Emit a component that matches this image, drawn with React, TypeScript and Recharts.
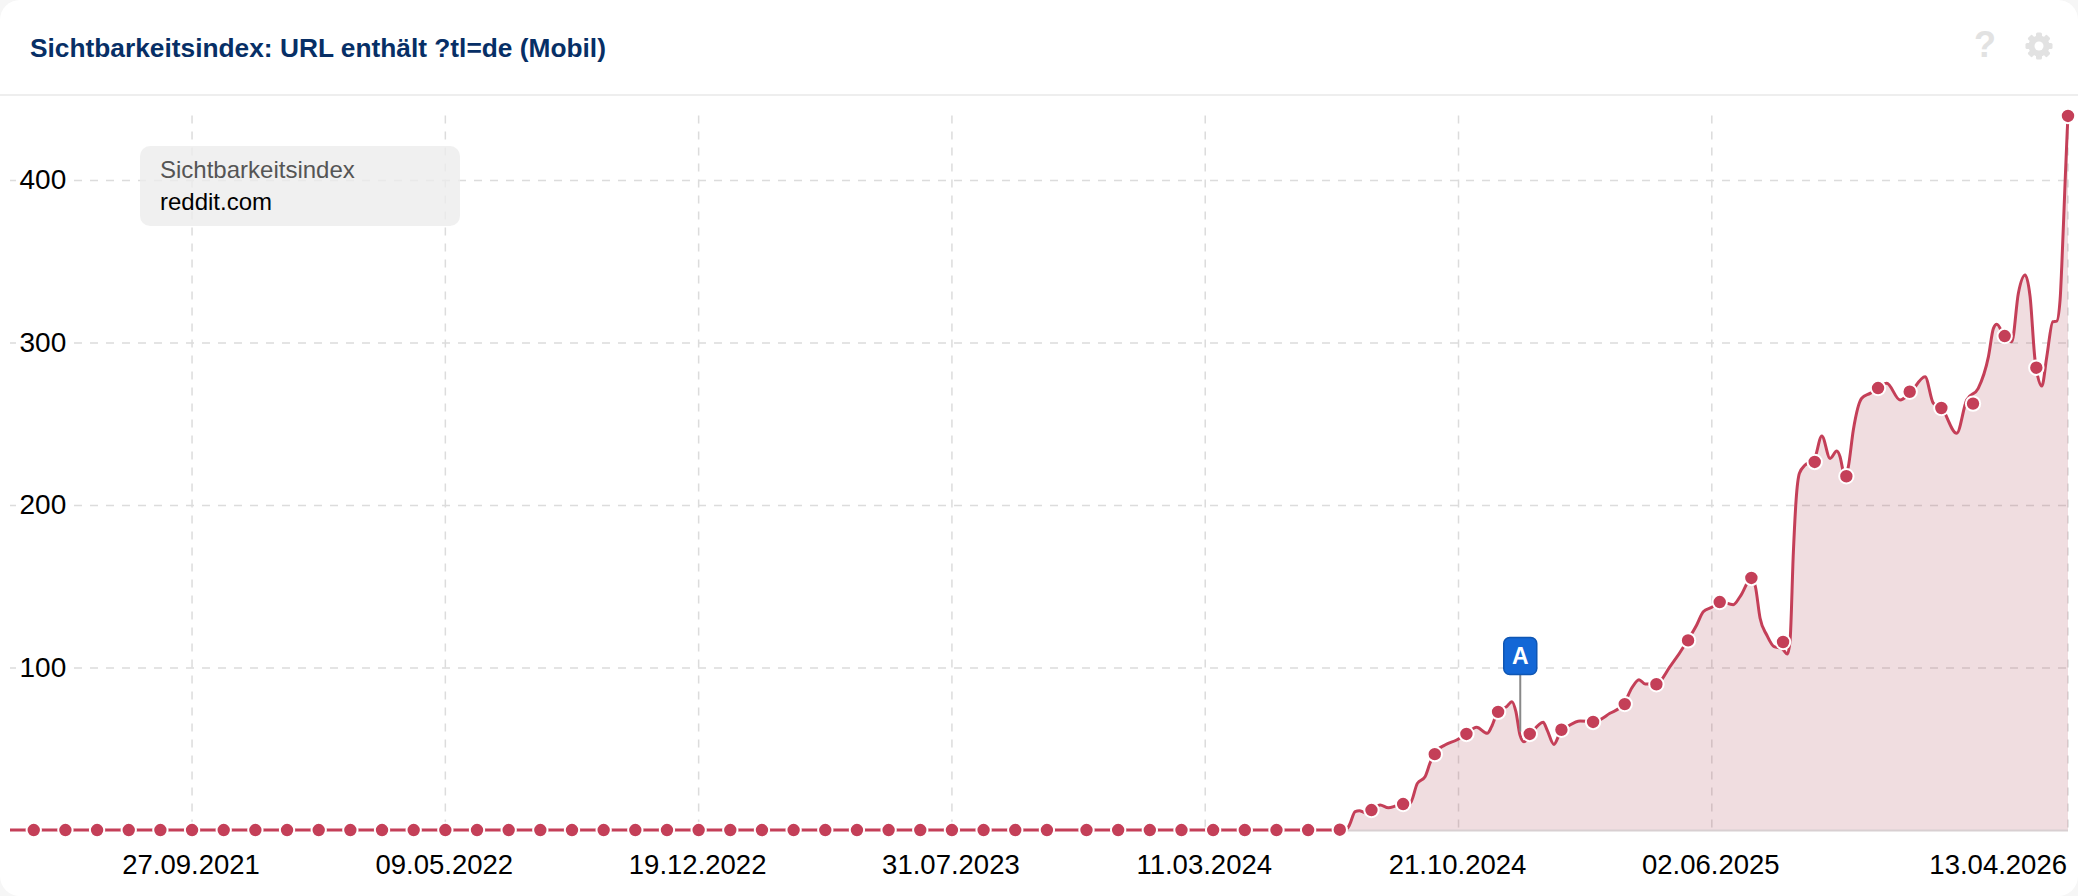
import React from "react";
import {
  ComposedChart,
  Area,
  Line,
  XAxis,
  YAxis,
  CartesianGrid,
  ReferenceLine,
  ReferenceDot,
} from "recharts";

const title = "Sichtbarkeitsindex: URL enthält ?tl=de (Mobil)";
const legendMetric = "Sichtbarkeitsindex";
const legendDomain = "reddit.com";

const tickWeeks = [23, 55, 87, 119, 151, 183, 215, 260];
const tickLabels = [
  "27.09.2021",
  "09.05.2022",
  "19.12.2022",
  "31.07.2023",
  "11.03.2024",
  "21.10.2024",
  "02.06.2025",
  "13.04.2026",
];
const valueTicks = [100, 200, 300, 400];

const curveWeeks = [
  0, 168, 168.8, 169.22, 169.94, 170.48, 171.2, 172.08, 173.09, 174.14, 175.2, 176.88, 177.8, 178.77, 179.4, 179.9,
  181.29, 182.77, 183.82, 185.29, 186.63, 187.18, 187.98, 189.08, 189.75, 190.25, 190.76, 191.26, 192.02, 193.7, 194.2,
  195.05, 195.8, 197.07, 198.35, 200.11, 202.13, 203.9, 204.87, 205.8, 206.57, 207.96, 209.72, 212, 213.09, 213.92, 215,
  216.03, 217.72, 218.57, 220.05, 220.51, 221.1, 221.94, 222.87, 223.84, 224.55, 224.89, 225.3, 225.65, 226.07, 226.79,
  227.92, 228.9, 229.94, 230.79, 231.2, 231.62, 231.96, 232.25, 232.88, 233.94, 234.99, 236, 237.1, 238.78, 240.05,
  241.94, 242.99, 244, 245.94, 247.2, 248.66, 249.95, 250.58, 251, 251.93, 252.9, 253.73, 254.58, 255.21, 255.84, 256.69,
  257.32, 258.08, 258.58, 259, 259.21, 259.63, 259.9, 260,
];
const curveValues = [
  0.3, 0.3, 0.3, 3.4, 11.6, 12.2, 11, 12.6, 15.7, 14, 15.3, 16.7, 29, 33.1, 41.5, 47.3,
  52.6, 55.7, 58.8, 63.5, 59.8, 63.9, 73.1, 76.2, 79.3, 73.1, 58.8, 54.6, 58.8, 66.6, 61.8,
  53, 59.8, 64.9, 67.4, 67, 72.1, 78, 87.5, 92.8, 90.2, 90.2, 100.8, 117.4, 126.5, 134.6, 137.4,
  140.8, 139, 143.9, 155.4, 150, 130.6, 120.3, 113.1, 112.1, 108.6, 117.2, 170.8, 203.4, 219.8, 224.9,
  228, 242.8, 229, 233.5, 230, 220.8, 218.2, 223.9, 246.5, 266, 269, 272.1, 275.2, 264.9, 269.2,
  279.3, 262.9, 260.2, 244.4, 264.9, 272.1, 291.6, 309, 311.5, 304.3, 300.8, 330.6, 341.8, 328.5, 289.5, 273.5,
  291.6, 313.1, 313.5, 326.5, 347, 398.5, 430, 439.7,
];

const markerWeeks = [
  3, 7, 11, 15, 19, 23, 27, 31, 35, 39, 43, 47, 51, 55, 59, 63, 67, 71, 75, 79, 83, 87, 91, 95, 99, 103, 107, 111, 115,
  119, 123, 127, 131, 136, 140, 144, 148, 152, 156, 160, 164, 168, 172, 176, 180, 184, 188, 192, 196, 200, 204, 208, 212,
  216, 220, 224, 228, 232, 236, 240, 244, 248, 252, 256, 260,
];
const markerValues = [
  0.3, 0.3, 0.3, 0.3, 0.3, 0.3, 0.3, 0.3, 0.3, 0.3, 0.3, 0.3, 0.3, 0.3, 0.3, 0.3, 0.3, 0.3, 0.3, 0.3, 0.3, 0.3, 0.3, 0.3,
  0.3, 0.3, 0.3, 0.3, 0.3, 0.3, 0.3, 0.3, 0.3, 0.3, 0.3, 0.3, 0.3, 0.3, 0.3, 0.3, 0.3, 0.5, 12.6, 16.3, 47, 59.4, 73, 59.4,
  62, 66.8, 77.8, 90, 117, 140.6, 155.4, 116, 226.8, 218, 272.3, 270, 260, 262.7, 304.3, 284.8, 439.7,
];

const annotationLabel = "A";
const annotationWeek = 190.8;
const annotationBoxValue = 107.4;
const annotationStem = [60.8, 95.7];
const baselineWeeks = [169, 260];

const curveTable = curveWeeks.map((week, i) => ({ week, value: curveValues[i] }));
const markerTable = markerWeeks.map((week, i) => ({ week, value: markerValues[i] }));

const RED = "#c43f58";
const FONT = "'Liberation Sans', Arial, sans-serif";

function XTick(props: any) {
  const { x, payload } = props;
  const idx = tickWeeks.indexOf(payload.value);
  const last = idx === tickWeeks.length - 1;
  return (
    <text
      x={x - 1}
      y={874}
      textAnchor={last ? "end" : "middle"}
      fontFamily={FONT}
      fontSize={27.5}
      fill="#000"
    >
      {tickLabels[idx]}
    </text>
  );
}

function YTick(props: any) {
  const { y, payload } = props;
  return (
    <g>
      <rect x={16} y={y - 14} width={58} height={28} fill="#fff" />
      <text x={19.5} y={y + 8.5} textAnchor="start" fontFamily={FONT} fontSize={28} fill="#000">
        {payload.value}
      </text>
    </g>
  );
}

function FlagShape(props: any) {
  const { cx, cy } = props;
  return (
    <g>
      <rect x={cx - 16.5} y={cy - 18.5} width={33} height={37} rx={6} fill="#1367d6" stroke="#0f56b3" strokeWidth={1.5} />
      <text x={cx} y={cy + 8} textAnchor="middle" fontFamily={FONT} fontWeight={700} fontSize={23} fill="#fff">
        {annotationLabel}
      </text>
    </g>
  );
}

function Gear() {
  const teeth = [0, 45, 90, 135, 180, 225, 270, 315];
  return (
    <svg width={28} height={28} viewBox="0 0 28 28" style={{ position: "absolute", left: 2025, top: 32 }}>
      {teeth.map((a) => (
        <rect key={a} x={11} y={0.5} width={6} height={7} rx={1.5} fill="#e2e2e2" transform={`rotate(${a} 14 14)`} />
      ))}
      <circle cx={14} cy={14} r={10.5} fill="#e2e2e2" />
      <circle cx={14} cy={14} r={4.5} fill="#fff" />
    </svg>
  );
}

export default function App() {
  return (
    <div style={{ position: "absolute", left: 0, top: 0, width: 2078, height: 896, background: "#f6f6f6", overflow: "hidden" }}>
      <div style={{ position: "absolute", inset: 0, background: "#fff", borderRadius: 20 }} />
      <div
        style={{
          position: "absolute",
          left: 30,
          top: 32,
          fontFamily: FONT,
          fontWeight: 700,
          fontSize: 26.3,
          lineHeight: "32px",
          color: "#072f66",
          whiteSpace: "nowrap",
        }}
      >
        {title}
      </div>
      <div
        style={{
          position: "absolute",
          left: 1971,
          top: 24,
          width: 28,
          textAlign: "center",
          fontFamily: FONT,
          fontWeight: 700,
          fontSize: 36,
          lineHeight: "42px",
          color: "#e2e2e2",
        }}
      >
        ?
      </div>
      <Gear />
      <div style={{ position: "absolute", left: 0, top: 94, width: 2078, height: 2, background: "#eeeeee" }} />
      <div style={{ position: "absolute", left: 0, top: 0 }}>
        <ComposedChart
          width={2078}
          height={896}
          margin={{ top: 115.5, right: 10, bottom: 0, left: 9 }}
          data={curveTable}
        >
          <CartesianGrid stroke="#dcdcdc" strokeWidth={1.5} strokeDasharray="8 8" verticalValues={tickWeeks} horizontalValues={valueTicks} />
          <XAxis
            dataKey="week"
            type="number"
            domain={[0, 260]}
            ticks={tickWeeks}
            interval={0}
            height={65.5}
            tickLine={false}
            axisLine={false}
            tick={<XTick />}
          />
          <YAxis
            type="number"
            domain={[0, 440]}
            ticks={valueTicks}
            width={1}
            axisLine={false}
            tickLine={false}
            tick={<YTick />}
          />
          <ReferenceLine
            segment={[
              { x: baselineWeeks[0], y: 0 },
              { x: baselineWeeks[1], y: 0 },
            ]}
            stroke="#d8cfd1"
            strokeWidth={2}
          />
          <Area
            data={curveTable}
            dataKey="value"
            type="monotone"
            stroke={RED}
            strokeWidth={3}
            fill="#ac4252"
            fillOpacity={0.18}
            dot={false}
            activeDot={false}
            isAnimationActive={false}
          />
          <ReferenceLine
            segment={[
              { x: annotationWeek, y: annotationStem[0] },
              { x: annotationWeek, y: annotationStem[1] },
            ]}
            stroke="#888888"
            strokeWidth={2}
          />
          <Line
            data={markerTable}
            dataKey="value"
            stroke="none"
            dot={{ r: 7.2, fill: RED, stroke: "#fff", strokeWidth: 2 }}
            activeDot={false}
            legendType="none"
            isAnimationActive={false}
          />
          <ReferenceDot x={annotationWeek} y={annotationBoxValue} shape={<FlagShape />} />
        </ComposedChart>
      </div>
      <div
        style={{
          position: "absolute",
          left: 140,
          top: 146,
          width: 320,
          height: 80,
          borderRadius: 10,
          background: "rgba(236,236,236,0.8)",
          fontFamily: FONT,
          fontSize: 24,
        }}
      >
        <div style={{ position: "absolute", left: 20, top: 9, lineHeight: "30px", color: "#555" }}>{legendMetric}</div>
        <div style={{ position: "absolute", left: 20, top: 41, lineHeight: "30px", color: "#000" }}>{legendDomain}</div>
      </div>
    </div>
  );
}
